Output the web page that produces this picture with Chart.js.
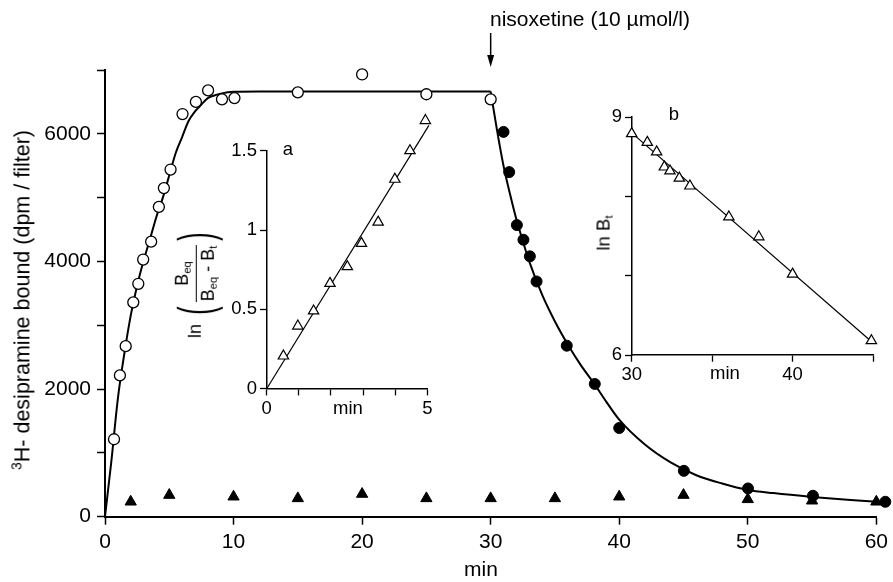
<!DOCTYPE html>
<html>
<head>
<meta charset="utf-8">
<script src="https://cdn.jsdelivr.net/npm/chart.js@4"></script>
<style>
  body { margin: 0; background: #fff; }
  #wrap { position: relative; width: 893px; height: 582px; font-family: "Liberation Sans", Arial, sans-serif; color: #000; overflow: hidden; }
  canvas { position: absolute; }
  .lbl { position: absolute; white-space: nowrap; transform: translate(-50%, -50%); line-height: 1; }
  .rot { position: absolute; white-space: nowrap; transform: translate(-50%, -50%) rotate(-90deg); line-height: 1; }
  sup { font-size: 0.65em; vertical-align: 0.55em; }
  sub { font-size: 0.62em; vertical-align: -0.3em; }
  .frac { display: inline-flex; flex-direction: column; align-items: center; vertical-align: middle; }
  .frac .den { border-top: 1.3px solid #000; padding: 2px 1px 0 1px; }
  .frac .num { padding-bottom: 2px; }
  .paren { display: inline-block; font-size: 2.8em; transform: scaleX(0.5); vertical-align: middle; font-weight: 300; }
</style>
</head>
<body>
<div id="wrap">
  <canvas id="mainChart" width="893" height="582" style="left:0;top:0"></canvas>
  <canvas id="insetA" width="240" height="330" style="left:200px;top:100px"></canvas>
  <canvas id="insetB" width="333" height="300" style="left:560px;top:90px"></canvas>

  <div class="rot" style="left:22px;top:300px;font-size:21.5px"><sup>3</sup>H- desipramine bound (dpm / filter)</div>
  <div class="lbl" style="left:481px;top:568px;font-size:21px">min</div>
  <div class="lbl" style="left:590px;top:18px;font-size:21px">nisoxetine (10 µmol/l)</div>

  <div class="lbl" style="left:288px;top:149px;font-size:18.5px">a</div>
  <div class="lbl" style="left:348px;top:408px;font-size:18.5px">min</div>
  <div class="rot" style="left:196px;top:283px;font-size:18px">ln <span class="paren">(</span><span class="frac"><span class="num">B<sub>eq</sub></span><span class="den">B<sub>eq</sub> - B<sub>t</sub></span></span><span class="paren">)</span></div>

  <div class="lbl" style="left:674px;top:114px;font-size:18.5px">b</div>
  <div class="lbl" style="left:725px;top:373px;font-size:18.5px">min</div>
  <div class="rot" style="left:605px;top:233px;font-size:18.5px">ln B<sub>t</sub></div>
</div>

<script>
// main panel: association (open circles), dissociation after nisoxetine (filled circles), nonspecific (triangles)
const riseTime  = [0.7, 1.16, 1.61, 2.2, 2.59, 2.97, 3.59, 4.19, 4.58, 5.1, 6.03, 7.07, 8.02, 9.1, 10.07, 15, 20, 25, 30]
const riseBound = [1214, 2214, 2672, 3359, 3650, 4030, 4310, 4855, 5150, 5440, 6310, 6500, 6680, 6540, 6560, 6650, 6930, 6620, 6540]

const decayTime  = [31.0, 31.44, 32.04, 32.55, 33.05, 33.57, 35.92, 38.1, 40.0, 45.03, 50.02, 55.07, 60.7]
const decayBound = [6030, 5400, 4570, 4340, 4080, 3686, 2680, 2080, 1390, 719, 443, 328, 234]

const nsTime  = [2, 5, 10, 15, 20, 25, 30, 35, 40, 45, 50, 55, 60]
const nsBound = [234, 339, 313, 287, 355, 287, 287, 287, 313, 339, 272, 250, 234]

// fitted curves
const fitRiseTime  = [0, 0.5, 1, 1.5, 2, 2.5, 3, 3.5, 4, 4.5, 5, 5.5, 6, 6.5, 7, 7.5, 8, 8.5, 9, 10, 12, 30]
const fitRiseBound = [0, 880, 1850, 2550, 3150, 3620, 4010, 4350, 4700, 5000, 5350, 5700, 5950, 6200, 6350, 6460, 6560, 6600, 6630, 6660, 6665, 6665]
const fitDecayTime  = [30, 30.5, 31, 31.5, 32, 32.5, 33, 34, 35, 36, 37, 38, 39, 40, 42, 44, 46, 48, 50, 52, 55, 58, 60.6]
const fitDecayBound = [6665, 6050, 5500, 5060, 4660, 4320, 4000, 3480, 3060, 2700, 2380, 2100, 1800, 1520, 1130, 850, 650, 520, 420, 370, 310, 260, 225]

const injectTime = 30

// inset a: ln(Beq/(Beq-Bt)) vs min
const aTime = [0.52, 0.97, 1.46, 1.97, 2.51, 2.95, 3.47, 3.99, 4.46, 4.94]
const aLn   = [0.206, 0.395, 0.49, 0.664, 0.769, 0.916, 1.05, 1.32, 1.50, 1.69]
const aFitTime = [0, 5.05]
const aFitLn   = [0, 1.66]

// inset b: ln Bt vs min
const bTime = [30, 30.97, 31.55, 32.03, 32.38, 32.96, 33.62, 36.04, 37.9, 40, 44.9]
const bLn   = [8.79, 8.68, 8.56, 8.37, 8.32, 8.23, 8.13, 7.74, 7.49, 7.02, 6.18]
const bFitTime = [30, 44.9]
const bFitLn   = [8.8, 6.17]

const FONT = '"Liberation Sans", Arial, sans-serif'

function pts(xs, ys) {
  return xs.map((x, i) => ({ x: x, y: ys[i] }))
}

function axis(min, max, step, labels, opts) {
  return {
    type: 'linear',
    min: min,
    max: max,
    afterBuildTicks: (scale) => {
      const t = []
      for (let v = min; v <= max + 1e-9; v += step) t.push({ value: Math.round(v * 1000) / 1000 })
      scale.ticks = t
    },
    ticks: {
      autoSkip: false,
      maxRotation: 0,
      color: '#000',
      padding: opts.pad,
      font: { family: FONT, size: opts.size },
      callback: (v) => labels.includes(v) ? String(v) : ''
    },
    grid: { drawOnChartArea: false, tickLength: opts.tick, tickColor: '#000', tickWidth: opts.tw },
    border: { color: '#000', width: opts.bw },
    afterFit: opts.fit
  }
}

const arrowPlugin = {
  id: 'arrow',
  afterDraw(chart) {
    const ctx = chart.ctx
    const x = chart.scales.x.getPixelForValue(injectTime)
    const top = chart.chartArea.top
    ctx.save()
    ctx.strokeStyle = '#000'
    ctx.fillStyle = '#000'
    ctx.lineWidth = 1.5
    ctx.beginPath()
    ctx.moveTo(x, top - 37)
    ctx.lineTo(x, top - 12)
    ctx.stroke()
    ctx.beginPath()
    ctx.moveTo(x - 3.5, top - 15)
    ctx.lineTo(x + 3.5, top - 15)
    ctx.lineTo(x, top - 3)
    ctx.closePath()
    ctx.fill()
    ctx.restore()
  }
}

const common = {
  responsive: false,
  animation: false,
  events: [],
  plugins: { legend: { display: false }, tooltip: { enabled: false } }
}

// hoverRadius is only widened so points sitting just past the axis end are still drawn
new Chart(document.getElementById('mainChart'), {
  type: 'scatter',
  data: {
    datasets: [
      { type: 'line', data: pts(fitRiseTime, fitRiseBound), borderColor: '#000', borderWidth: 2, pointRadius: 0, cubicInterpolationMode: 'monotone', fill: false, order: 5 },
      { type: 'line', data: pts(fitDecayTime, fitDecayBound), borderColor: '#000', borderWidth: 2, pointRadius: 0, cubicInterpolationMode: 'monotone', fill: false, clip: false, order: 5 },
      { data: pts(nsTime, nsBound), pointStyle: 'triangle', pointRadius: 6.5, backgroundColor: '#000', borderColor: '#000', borderWidth: 1, clip: false, order: 3 },
      { data: pts(riseTime, riseBound), pointStyle: 'circle', pointRadius: 5.5, hoverRadius: 12, backgroundColor: '#fff', borderColor: '#000', borderWidth: 1.3, clip: false, order: 1 },
      { data: pts(decayTime, decayBound), pointStyle: 'circle', pointRadius: 5.5, hoverRadius: 12, backgroundColor: '#000', borderColor: '#000', borderWidth: 1, clip: false, order: 1 }
    ]
  },
  options: Object.assign({}, common, {
    layout: { autoPadding: false, padding: { top: 70, right: 15, left: 0, bottom: 0 } },
    scales: {
      x: axis(0, 60, 10, [0, 10, 20, 30, 40, 50, 60], { size: 21, pad: 5, tick: 8, tw: 1.5, bw: 2, fit: (s) => { s.height = 65.3 } }),
      y: axis(0, 7000, 1000, [0, 2000, 4000, 6000], { size: 21, pad: 6, tick: 8, tw: 1.5, bw: 2, fit: (s) => { s.width = 105 } })
    }
  }),
  plugins: [arrowPlugin]
})

new Chart(document.getElementById('insetA'), {
  type: 'scatter',
  data: {
    datasets: [
      { type: 'line', data: pts(aFitTime, aFitLn), borderColor: '#000', borderWidth: 1.2, pointRadius: 0, fill: false, clip: false, order: 5 },
      { data: pts(aTime, aLn), pointStyle: 'triangle', pointRadius: 6, hoverRadius: 40, backgroundColor: '#fff', borderColor: '#000', borderWidth: 1.2, clip: false, order: 1 }
    ]
  },
  options: Object.assign({}, common, {
    layout: { autoPadding: false, padding: { top: 50.7, right: 12.7, left: 0, bottom: 0 } },
    scales: {
      x: axis(0, 5, 1, [0, 5], { size: 18.5, pad: 2, tick: 6.7, tw: 1.3, bw: 1.5, fit: (s) => { s.height = 41.3 } }),
      y: axis(0, 1.5, 0.5, [0, 0.5, 1, 1.5], { size: 18.5, pad: 3, tick: 6.7, tw: 1.3, bw: 1.5, fit: (s) => { s.width = 66.7 } })
    }
  })
})

new Chart(document.getElementById('insetB'), {
  type: 'scatter',
  data: {
    datasets: [
      { type: 'line', data: pts(bFitTime, bFitLn), borderColor: '#000', borderWidth: 1.2, pointRadius: 0, fill: false, clip: false, order: 5 },
      { data: pts(bTime, bLn), pointStyle: 'triangle', pointRadius: 6, hoverRadius: 12, backgroundColor: '#fff', borderColor: '#000', borderWidth: 1.2, clip: false, order: 1 }
    ]
  },
  options: Object.assign({}, common, {
    layout: { autoPadding: false, padding: { top: 27, right: 20, left: 0, bottom: 0 } },
    scales: {
      x: axis(30, 45, 5, [30, 40], { size: 18.5, pad: 2, tick: 6.7, tw: 1.3, bw: 1.5, fit: (s) => { s.height = 35 } }),
      y: axis(6, 9, 1, [6, 9], { size: 18.5, pad: 3, tick: 6.7, tw: 1.3, bw: 1.5, fit: (s) => { s.width = 71.7 } })
    }
  })
})
</script>
</body>
</html>
